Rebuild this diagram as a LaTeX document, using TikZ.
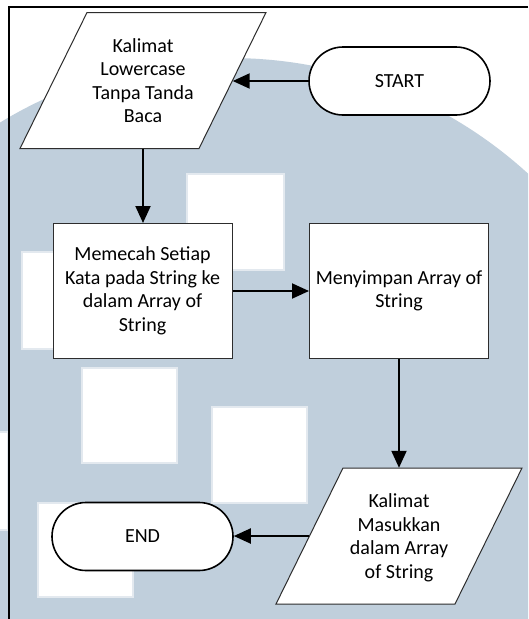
\documentclass[tikz,border=0pt]{standalone}
\usepackage{fontspec}
\setmainfont{Carlito}
\usetikzlibrary{arrows.meta,calc}
\definecolor{wmblue}{RGB}{192,207,220}
\definecolor{edgegray}{RGB}{45,45,45}
\begin{document}
\begin{tikzpicture}[x=1pt,y=-1pt,
  every node/.style={font=\fontsize{20}{23.5}\selectfont, align=center, inner sep=0pt},
  term/.style={draw=black, line width=1.6pt, fill=white, rounded corners=34pt,
               minimum width=181pt, minimum height=68pt},
  procbox/.style={draw=edgegray, line width=1pt, fill=white,
                  minimum width=179pt, minimum height=135pt},
  iobody/.style={minimum width=179pt, minimum height=136pt},
  ioedge/.style={draw=edgegray, line width=1pt, fill=white},
  flow/.style={line width=2pt, -{Triangle[length=17pt,width=15pt]}},
  wmsq/.style={fill=white, draw=white!55!wmblue, line width=1.5pt}]

\useasboundingbox (0,0) rectangle (528,619);
\fill[white] (0,0) rectangle (528,619);

% faint background emblem: a large dome with white squares
\begin{scope}
  \clip (0,0) rectangle (528,619);
  \fill[wmblue] plot[domain=0:528, samples=80]
        (\x, {500 - 442*sqrt(1 - ((\x-230)/442)^2)}) -- (528,619) -- (0,619) -- cycle;
  \path[wmsq] (187,174) rectangle (284,270);
  \path[wmsq] (22,252) rectangle (118,349);
  \path[wmsq] (82,368) rectangle (177,463);
  \path[wmsq] (212,407) rectangle (307,503);
  \path[wmsq] (38,503) rectangle (133,597);
  \path[wmsq] (-20,432) rectangle (8,530);
\end{scope}

% page frame
\draw[line width=2pt] (528,7) -- (9,7) -- (9,619);

% parallelogram outline around a centre point
\newcommand\iopath[1]{%
  \path[ioedge] ($(#1)+(-56,-68)$) -- ($(#1)+(123,-68)$) --
                ($(#1)+(56,68)$) -- ($(#1)+(-123,68)$) -- cycle;}

\coordinate (inc) at (143,80.5);
\coordinate (outc) at (399,536);
\iopath{inc}
\iopath{outc}

\node[iobody] (in) at (inc) {Kalimat\\Lowercase\\Tanpa Tanda\\Baca};
\node[iobody] (out) at (outc) {};
\node (outtext) at ($(outc)+(0,2)$) {Kalimat\\Masukkan\\dalam Array\\of String};

\node[term] (start) at (399.5,81) {START};
\node[term] (end) at (142.5,536.5) {END};

\node[procbox] (split) at (142.5,291) {Memecah Setiap\\Kata pada String ke\\dalam Array of\\String};
\node[procbox] (store) at (399,291) {Menyimpan Array of\\String};

\draw[flow] (start.west) -- (start.west -| in.east);
\draw[flow] (in.south) -- (in.south |- split.north);
\draw[flow] (split.east) -- (store.west);
\draw[flow] (store.south) -- (store.south |- out.north);
\draw[flow] (out.west) -- (out.west -| end.east);
\end{tikzpicture}
\end{document}
